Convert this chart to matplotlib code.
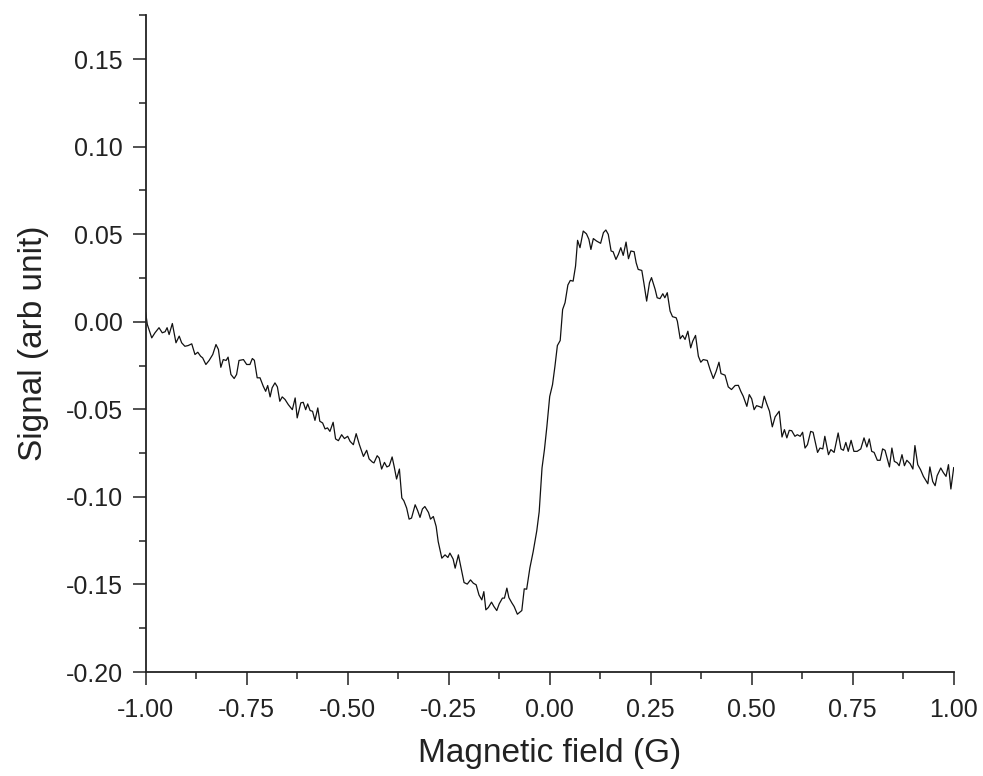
import matplotlib
matplotlib.use("Agg")
import matplotlib.pyplot as plt
from matplotlib.ticker import MultipleLocator, FormatStrFormatter

# Field values (G)
field = [
    -1.000, -0.996, -0.985, -0.977, -0.967, -0.959, -0.952, -0.947, -0.942, -0.934,
    -0.925, -0.917, -0.911, -0.903, -0.895, -0.886, -0.878, -0.871, -0.864, -0.859,
    -0.851, -0.843, -0.834, -0.826, -0.820, -0.814, -0.808, -0.801, -0.796, -0.789,
    -0.781, -0.775, -0.769, -0.758, -0.750,
    -0.742, -0.736, -0.731, -0.724, -0.717, -0.709, -0.703, -0.698, -0.692, -0.687,
    -0.680, -0.674, -0.668, -0.662, -0.655, -0.647, -0.637, -0.630, -0.625, -0.616,
    -0.610, -0.604, -0.599, -0.593, -0.587, -0.581, -0.574, -0.569, -0.562, -0.556,
    -0.550, -0.544, -0.536, -0.530, -0.523, -0.515, -0.508, -0.500,
    -0.494, -0.486, -0.479, -0.471, -0.461, -0.453, -0.447, -0.439, -0.435, -0.427,
    -0.422, -0.416, -0.409, -0.403, -0.397, -0.390, -0.385, -0.379, -0.372, -0.366,
    -0.361, -0.354, -0.348, -0.342, -0.333, -0.327, -0.321, -0.315, -0.309, -0.300,
    -0.295, -0.288, -0.281, -0.276, -0.267, -0.259, -0.252, -0.247, -0.239,
    -0.234, -0.226, -0.220, -0.212, -0.204, -0.196, -0.189, -0.182, -0.175, -0.168,
    -0.163, -0.158, -0.152, -0.144, -0.138, -0.131, -0.125, -0.117, -0.112, -0.106,
    -0.101, -0.094, -0.088, -0.080, -0.069, -0.063, -0.057, -0.049,
    -0.041, -0.032, -0.026, -0.019, -0.013, -0.007, 0.000, 0.007, 0.013, 0.019,
    0.026, 0.032, 0.038, 0.045, 0.051, 0.058, 0.064, 0.069, 0.075, 0.083,
    0.091, 0.097, 0.102, 0.108, 0.116, 0.126, 0.133, 0.139, 0.145, 0.152,
    0.157, 0.164, 0.170, 0.176, 0.182, 0.189, 0.195, 0.201, 0.209, 0.214,
    0.219, 0.228, 0.233, 0.240, 0.247, 0.252,
    0.261, 0.266, 0.273, 0.280, 0.285, 0.291, 0.298, 0.304, 0.313, 0.316,
    0.323, 0.329, 0.335, 0.342, 0.349, 0.354, 0.361, 0.368, 0.374, 0.380,
    0.390, 0.397, 0.405, 0.412, 0.419, 0.424, 0.434, 0.442, 0.450, 0.459,
    0.467, 0.473, 0.479, 0.488, 0.494, 0.500, 0.506, 0.512, 0.521, 0.525,
    0.531, 0.537, 0.544, 0.551, 0.558, 0.568, 0.575, 0.581, 0.587, 0.593,
    0.599, 0.607, 0.613, 0.620, 0.626, 0.632, 0.638, 0.646, 0.652, 0.663,
    0.669, 0.676, 0.681, 0.690, 0.696, 0.704, 0.714, 0.721, 0.727, 0.733,
    0.739, 0.746, 0.753, 0.761, 0.770, 0.778, 0.785, 0.791, 0.797, 0.803,
    0.811, 0.818, 0.824, 0.830, 0.841, 0.847, 0.853, 0.860, 0.865, 0.872,
    0.878, 0.884, 0.892, 0.899, 0.904, 0.911, 0.918, 0.925, 0.936, 0.941,
    0.948, 0.954, 0.959, 0.968, 0.974, 0.981, 0.987, 0.993, 1.000,
]

# Signal (arb unit)
signal = [
    0.0051, -0.0015, -0.0092, -0.0063, -0.0034, -0.0063, -0.0057, -0.0034, -0.0073, -0.0010,
    -0.0120, -0.0082, -0.0120, -0.0140, -0.0136, -0.0126, -0.0187, -0.0174, -0.0197, -0.0206,
    -0.0244, -0.0221, -0.0187, -0.0130, -0.0158, -0.0260, -0.0216, -0.0221, -0.0202, -0.0301,
    -0.0324, -0.0301, -0.0221, -0.0216, -0.0244,
    -0.0244, -0.0210, -0.0220, -0.0320, -0.0320, -0.0368, -0.0397, -0.0364, -0.0429, -0.0377,
    -0.0349, -0.0372, -0.0454, -0.0429, -0.0444, -0.0473, -0.0502, -0.0435, -0.0549, -0.0463,
    -0.0460, -0.0502, -0.0469, -0.0507, -0.0511, -0.0563, -0.0492, -0.0568, -0.0578, -0.0612,
    -0.0606, -0.0626, -0.0574, -0.0669, -0.0679, -0.0645, -0.0667, -0.0654,
    -0.0683, -0.0702, -0.0639, -0.0702, -0.0769, -0.0734, -0.0783, -0.0801, -0.0806, -0.0765,
    -0.0778, -0.0841, -0.0803, -0.0829, -0.0822, -0.0772, -0.0826, -0.0898, -0.0841, -0.1006,
    -0.1022, -0.1064, -0.1127, -0.1121, -0.1045, -0.1077, -0.1117, -0.1069, -0.1055, -0.1089,
    -0.1127, -0.1112, -0.1169, -0.1255, -0.1350, -0.1331, -0.1346, -0.1321, -0.1355,
    -0.1407, -0.1331, -0.1398, -0.1489, -0.1498, -0.1474, -0.1493, -0.1502, -0.1560, -0.1588,
    -0.1541, -0.1645, -0.1632, -0.1601, -0.1626, -0.1649, -0.1611, -0.1578, -0.1578, -0.1521,
    -0.1575, -0.1604, -0.1626, -0.1670, -0.1649, -0.1525, -0.1527, -0.1405,
    -0.1314, -0.1194, -0.1085, -0.0835, -0.0730, -0.0599, -0.0427, -0.0359, -0.0254, -0.0136,
    -0.0107, 0.0070, 0.0109, 0.0210, 0.0236, 0.0232, 0.0318, 0.0465, 0.0423, 0.0518,
    0.0502, 0.0471, 0.0413, 0.0475, 0.0461, 0.0448, 0.0509, 0.0524, 0.0499, 0.0404,
    0.0400, 0.0356, 0.0385, 0.0423, 0.0379, 0.0455, 0.0360, 0.0404, 0.0400, 0.0337,
    0.0299, 0.0293, 0.0223, 0.0118, 0.0223, 0.0252,
    0.0185, 0.0137, 0.0132, 0.0160, 0.0137, 0.0166, 0.0061, 0.0029, 0.0023, 0.0003,
    -0.0097, -0.0078, -0.0101, -0.0054, -0.0149, -0.0111, -0.0078, -0.0197, -0.0231, -0.0216,
    -0.0221, -0.0273, -0.0324, -0.0283, -0.0231, -0.0296, -0.0305, -0.0372, -0.0387, -0.0364,
    -0.0363, -0.0397, -0.0425, -0.0483, -0.0416, -0.0440, -0.0502, -0.0479, -0.0486, -0.0492,
    -0.0425, -0.0467, -0.0511, -0.0600, -0.0543, -0.0511, -0.0658, -0.0616, -0.0663, -0.0620,
    -0.0622, -0.0654, -0.0645, -0.0654, -0.0631, -0.0721, -0.0702, -0.0626, -0.0631, -0.0746,
    -0.0721, -0.0726, -0.0654, -0.0759, -0.0730, -0.0746, -0.0635, -0.0726, -0.0734, -0.0689,
    -0.0740, -0.0677, -0.0740, -0.0740, -0.0726, -0.0663, -0.0715, -0.0669, -0.0740, -0.0746,
    -0.0791, -0.0791, -0.0726, -0.0734, -0.0829, -0.0721, -0.0797, -0.0806, -0.0822, -0.0759,
    -0.0822, -0.0791, -0.0810, -0.0841, -0.0707, -0.0816, -0.0845, -0.0883, -0.0925, -0.0829,
    -0.0912, -0.0936, -0.0879, -0.0835, -0.0860, -0.0883, -0.0816, -0.0955, -0.0833,
]

x_label = "Magnetic field (G)"
y_label = "Signal (arb unit)"

plt.rcParams["font.family"] = ["Liberation Sans", "DejaVu Sans"]

fig = plt.figure(figsize=(9.83, 7.76), dpi=100)
ax = fig.add_axes([0.1482, 0.1340, 0.8220, 0.8463])

ax.plot(field, signal, color="#111111", linewidth=0.9)

ax.set_xlim(-1.0, 1.0)
ax.set_ylim(-0.20, 0.175)

ax.xaxis.set_major_locator(MultipleLocator(0.25))
ax.xaxis.set_minor_locator(MultipleLocator(0.125))
ax.yaxis.set_major_locator(MultipleLocator(0.05))
ax.yaxis.set_minor_locator(MultipleLocator(0.025))
ax.xaxis.set_major_formatter(FormatStrFormatter("%.2f"))
ax.yaxis.set_major_formatter(FormatStrFormatter("%.2f"))

for side in ["top", "right"]:
    ax.spines[side].set_visible(False)
for side in ["left", "bottom"]:
    ax.spines[side].set_linewidth(1.3)
    ax.spines[side].set_color("#222222")

ax.tick_params(which="major", direction="out", length=9.5, width=1.1,
               labelsize=18, pad=7, colors="#222222")
ax.tick_params(axis="x", which="major", pad=9)
ax.tick_params(which="minor", direction="out", length=5, width=1.1, colors="#222222")

ax.set_xlabel(x_label, fontsize=24, labelpad=12, color="#222222")
ax.set_ylabel(y_label, fontsize=24, labelpad=12, color="#222222")

fig.savefig("out.png", dpi=100)
